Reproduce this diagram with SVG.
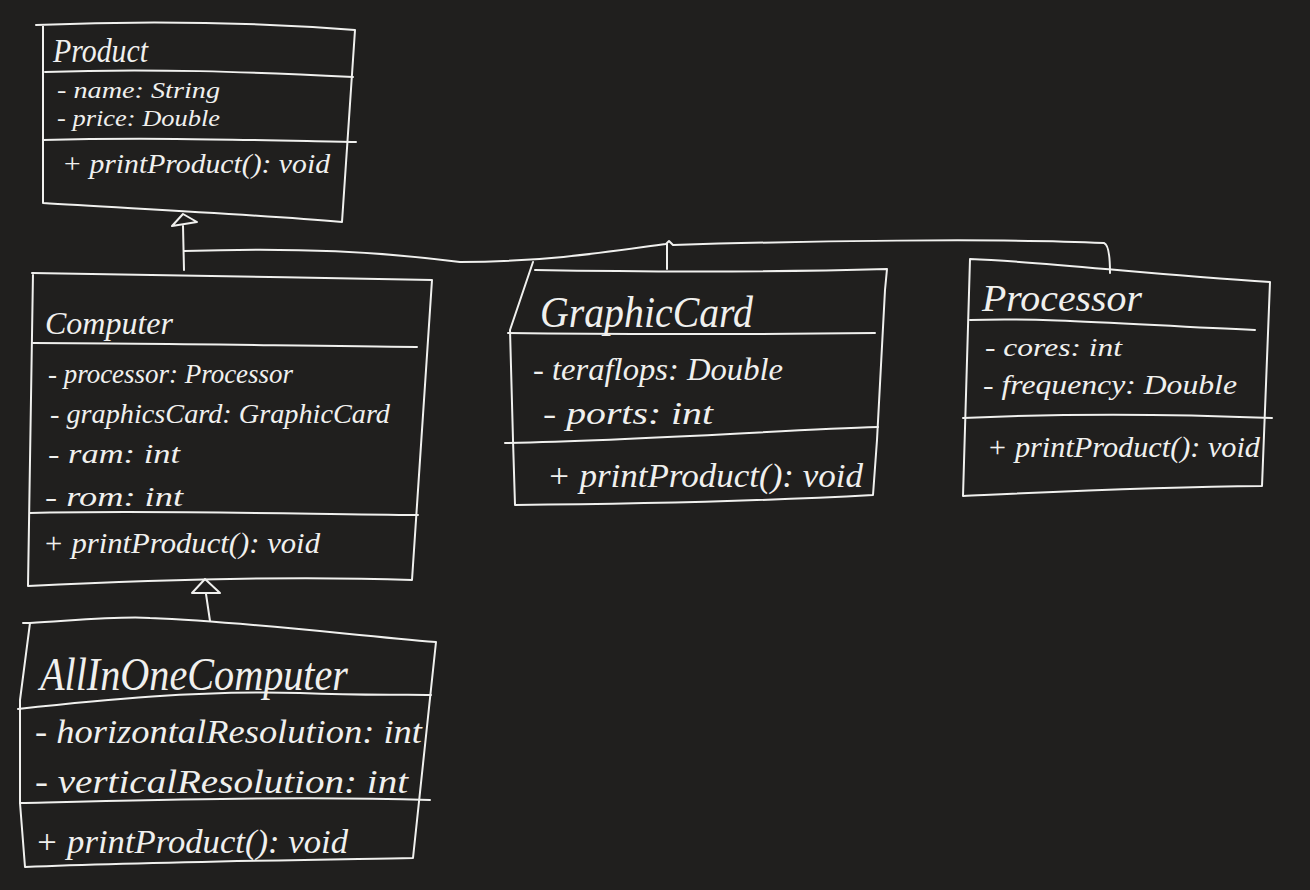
<svg xmlns="http://www.w3.org/2000/svg" width="1310" height="890" viewBox="0 0 1310 890">
<style>
.ln{fill:none;stroke:#f0f0ee;stroke-width:2;stroke-linecap:round;stroke-linejoin:round}
text{font-family:"Liberation Serif","DejaVu Serif",serif;font-style:italic;fill:#f0f0ee}
</style>
<rect width="1310" height="890" fill="#201f1e"/>
<g id="connectors">
<path class="ln" d="M183,226 L184,270"/>
<path class="ln" d="M183,214 L197,222 L172,226 Z"/>
<path class="ln" d="M184,251 C300,247 380,252 460,262 C550,262 620,250 666,244 L669,241 L673,245 C800,241 1000,238 1104,243 Q1110,245 1110,273"/>
<path class="ln" d="M667,244 L667,269"/>
<path class="ln" d="M205,579 L220,593 L192,593 Z"/>
<path class="ln" d="M206,594 L210,621"/>
</g>
<g id="product">
<path class="ln" d="M36,25 C150,20 250,22 355,30 L342,222 C250,214 120,208 43,203 L43,25"/>
<path class="ln" d="M45,72 C150,68 250,72 353,77"/>
<path class="ln" d="M43,140 C150,137 250,140 356,142"/>
<text x="53" y="62" font-size="34" textLength="95" lengthAdjust="spacingAndGlyphs">Product</text>
<text x="57" y="98" font-size="24" textLength="163" lengthAdjust="spacingAndGlyphs">- name: String</text>
<text x="57" y="126" font-size="24" textLength="163" lengthAdjust="spacingAndGlyphs">- price: Double</text>
<text x="62" y="173" font-size="28" textLength="268" lengthAdjust="spacingAndGlyphs">+ printProduct(): void</text>
</g>
<g id="computer">
<path class="ln" d="M32,273 C150,276 300,277 432,280 L412,580 C300,576 150,580 28,586 L33,273"/>
<path class="ln" d="M33,343 C150,343 300,346 417,347"/>
<path class="ln" d="M30,513 C150,510 300,514 418,515"/>
<text x="45" y="334" font-size="32" textLength="128" lengthAdjust="spacingAndGlyphs">Computer</text>
<text x="48" y="383" font-size="28" textLength="245" lengthAdjust="spacingAndGlyphs">- processor: Processor</text>
<text x="50" y="423" font-size="28" textLength="340" lengthAdjust="spacingAndGlyphs">- graphicsCard: GraphicCard</text>
<text x="48" y="463" font-size="28" textLength="132" lengthAdjust="spacingAndGlyphs">- ram: int</text>
<text x="45" y="506" font-size="28" textLength="138" lengthAdjust="spacingAndGlyphs">- rom: int</text>
<text x="43" y="553" font-size="30" textLength="277" lengthAdjust="spacingAndGlyphs">+ printProduct(): void</text>
</g>
<g id="allinonecomputer">
<path class="ln" d="M23,623 L30,623 C80,620 120,616 150,618 C250,622 350,635 436,642 L413,858 C300,860 150,862 25,867 L20,803 L20,700 L30,623"/>
<path class="ln" d="M18,709 C100,700 200,690 300,693 C370,696 410,694 431,695"/>
<path class="ln" d="M20,803 C150,800 300,796 430,800"/>
<text x="40" y="690" font-size="46" textLength="308" lengthAdjust="spacingAndGlyphs">AllInOneComputer</text>
<text x="35" y="743" font-size="34" textLength="387" lengthAdjust="spacingAndGlyphs">- horizontalResolution: int</text>
<text x="35" y="793" font-size="34" textLength="373" lengthAdjust="spacingAndGlyphs">- verticalResolution: int</text>
<text x="35" y="853" font-size="34" textLength="313" lengthAdjust="spacingAndGlyphs">+ printProduct(): void</text>
</g>
<g id="graphiccard">
<path class="ln" d="M533,262 L510,330 L513,440 L515,505 C650,504 780,500 873,495 L877,440 L885,290 L887,269 C780,272 650,272 535,270"/>
<path class="ln" d="M508,333 C650,335 780,334 875,333"/>
<path class="ln" d="M505,443 C650,440 780,430 878,427"/>
<text x="540" y="327" font-size="44" textLength="213" lengthAdjust="spacingAndGlyphs">GraphicCard</text>
<text x="533" y="380" font-size="32" textLength="250" lengthAdjust="spacingAndGlyphs">- teraflops: Double</text>
<text x="543" y="424" font-size="32" textLength="170" lengthAdjust="spacingAndGlyphs">- ports: int</text>
<text x="547" y="487" font-size="34" textLength="316" lengthAdjust="spacingAndGlyphs">+ printProduct(): void</text>
</g>
<g id="processor">
<path class="ln" d="M970,259 C1050,262 1150,275 1270,282 L1262,486 C1150,487 1050,492 963,496 L970,259"/>
<path class="ln" d="M970,320 C1050,317 1150,326 1255,330"/>
<path class="ln" d="M963,418 C1050,414 1150,413 1272,418"/>
<text x="982" y="311" font-size="38" textLength="160" lengthAdjust="spacingAndGlyphs">Processor</text>
<text x="985" y="356" font-size="26" textLength="137" lengthAdjust="spacingAndGlyphs">- cores: int</text>
<text x="983" y="394" font-size="28" textLength="254" lengthAdjust="spacingAndGlyphs">- frequency: Double</text>
<text x="987" y="457" font-size="30" textLength="273" lengthAdjust="spacingAndGlyphs">+ printProduct(): void</text>
</g>
</svg>
